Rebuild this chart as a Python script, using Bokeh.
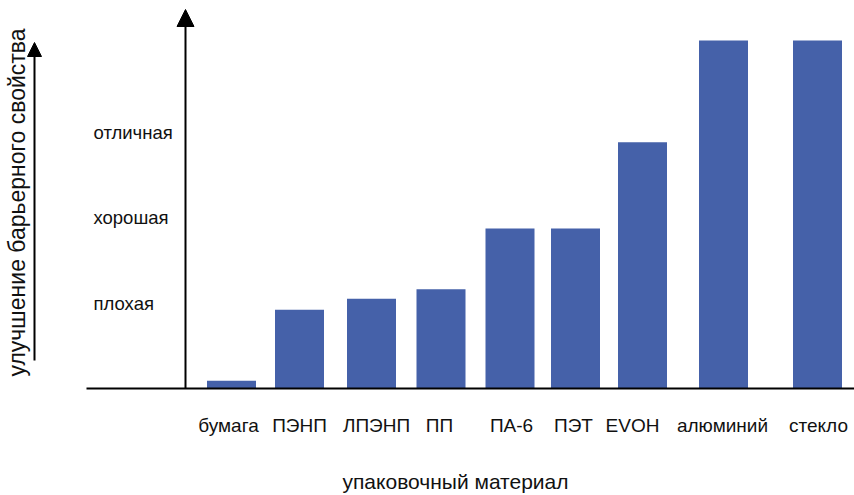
import math
from bokeh.plotting import figure
from bokeh.models import Range1d, Arrow, NormalHead, ColumnDataSource
from bokeh.core.properties import value
from bokeh.embed import file_html
from bokeh.resources import INLINE

# ---- data ----
materials = ["бумага", "ПЭНП", "ЛПЭНП", "ПП", "ПА-6", "ПЭТ", "EVOH", "алюминий", "стекло"]
barrier = [0.09, 0.92, 1.05, 1.16, 1.87, 1.87, 2.88, 4.07, 4.07]
level_labels = ["плохая", "хорошая", "отличная"]
level_values = [1, 2, 3]
x_title = "упаковочный материал"
y_title = "улучшение барьерного свойства"

# ---- layout (pixel positions along the x axis) ----
bar_centers = [231, 299, 371, 440.5, 509.5, 575, 642, 723, 817]
label_centers = [228, 299, 376, 439, 511, 573, 632, 722, 818]
BAR_W = 49
PX_PER_UNIT = 85.5
BASE = 388  # pixel row of the zero line in the page
W, H = 854, 495

def py(sy):
    """page pixel row -> data y"""
    return (BASE - sy) / PX_PER_UNIT

FONT = value("Liberation Sans")
BLUE = "#4561a9"

p = figure(width=W, height=H,
           x_range=Range1d(0, W), y_range=Range1d(py(H), py(0)),
           x_axis_type=None, y_axis_type=None,
           output_backend="svg", toolbar_location=None, min_border=0)
p.grid.visible = False
p.outline_line_color = None
p.background_fill_color = "white"

src = ColumnDataSource(dict(x=bar_centers, top=barrier, lx=label_centers,
                            ly=[py(425)] * len(materials), name=materials))

p.vbar(x="x", top="top", bottom=0, width=BAR_W, source=src,
       fill_color=BLUE, line_color=None)

# x axis line
p.segment(x0=[86], y0=[0], x1=[854], y1=[0], line_color="black", line_width=2)

# y axis arrow
p.add_layout(Arrow(x_start=185, y_start=0, x_end=185, y_end=py(9),
                   line_color="black", line_width=2,
                   end=NormalHead(size=17, fill_color="black", line_color="black")))

# left title arrow
p.add_layout(Arrow(x_start=34, y_start=py(360), x_end=34, y_end=py(42),
                   line_color="black", line_width=2,
                   end=NormalHead(size=14, fill_color="black", line_color="black")))

# category labels
p.text(x="lx", y="ly", text="name", source=src, text_font=FONT,
       text_font_size="19px", text_align="center", text_baseline="middle",
       text_color="#111111")

# level labels (left aligned)
p.text(x=[93] * 3, y=level_values, text=level_labels, text_font=FONT,
       text_font_size="18.5px", text_align="left", text_baseline="middle",
       text_color="#111111")

# x title
p.text(x=[455], y=[py(481)], text=[x_title], text_font=FONT,
       text_font_size="21px", text_align="center", text_baseline="middle",
       text_color="#111111")

# y title (rotated)
p.text(x=[16], y=[py(202)], text=[y_title], text_font=FONT, angle=math.pi / 2,
       text_font_size="23px", text_align="center", text_baseline="middle",
       text_color="#111111")

open("out.html", "w").write(file_html(p, INLINE))
